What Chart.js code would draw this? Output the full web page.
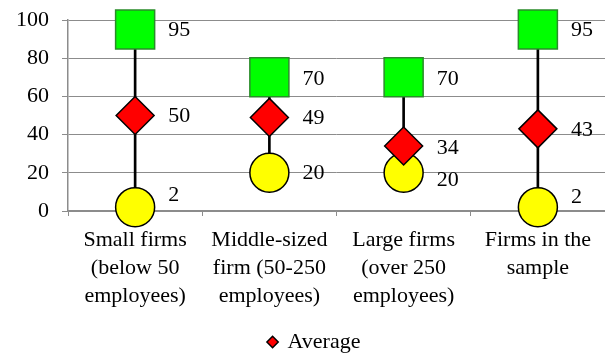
<!DOCTYPE html>
<html>
<head>
<meta charset="utf-8">
<script src="https://cdn.jsdelivr.net/npm/chart.js@4/dist/chart.umd.min.js"></script>
<style>
  html, body { margin: 0; padding: 0; background: #fff; }
  #wrap { width: 605px; height: 353px; }
</style>
</head>
<body>
<div id="wrap"><canvas id="chart" width="605" height="353"></canvas></div>
<script>
// Firm-size groups (multi-line axis labels)
const categories = [
  ["Small firms", "(below 50", "employees)"],
  ["Middle-sized", "firm (50-250", "employees)"],
  ["Large firms", "(over 250", "employees)"],
  ["Firms in the", "sample"]
];
const maxValues = [95, 70, 70, 95];
const avgValues = [50, 49, 34, 43];
const minValues = [2, 20, 20, 2];
const yTicks = [0, 20, 40, 60, 80, 100];

const SERIF = "'Liberation Serif', 'Times New Roman', serif";
const GRID = '#8c8c8c';

// Small vertical nudges for value labels that would otherwise collide
const labelNudge = {
  max: [1, 2, 2, 1],
  avg: [1, 1, 2, 1],
  min: [-12, 0, 7, -10]
};

const valueLabels = {
  id: 'valueLabels',
  afterDatasetsDraw(chart) {
    const ctx = chart.ctx;
    ctx.save();
    ctx.font = '22px ' + SERIF;
    ctx.fillStyle = '#000';
    ctx.textAlign = 'left';
    ctx.textBaseline = 'middle';
    chart.data.datasets.forEach((ds, di) => {
      if (!ds.labelKey) return;
      const meta = chart.getDatasetMeta(di);
      meta.data.forEach((el, i) => {
        ctx.fillText(String(ds.data[i]), el.x + 33, el.y + labelNudge[ds.labelKey][i]);
      });
    });
    ctx.restore();
  }
};

// Sit the legend a little right of centre and low in the frame
const legendShift = {
  id: 'legendShift',
  afterLayout(chart) {
    const lg = chart.legend;
    lg.left += 12; lg.right += 12;
    lg.top += 10; lg.bottom += 10;
  }
};

const markerBase = { type: 'line', showLine: false, clip: false, borderWidth: 1.5 };

new Chart(document.getElementById('chart'), {
  type: 'bar',
  data: {
    labels: categories,
    datasets: [
      Object.assign({}, markerBase, {
        label: 'Average',
        labelKey: 'avg',
        data: avgValues,
        pointStyle: 'rectRot',
        pointRadius: 19,
        pointHoverRadius: 19,
        backgroundColor: '#ff0000',
        borderColor: '#000000',
        order: 1
      }),
      Object.assign({}, markerBase, {
        label: 'Maximum',
        labelKey: 'max',
        data: maxValues,
        pointStyle: 'rect',
        pointRadius: 27.6,
        pointHoverRadius: 27.6,
        backgroundColor: '#00ff00',
        borderColor: '#2a8c2a',
        order: 2
      }),
      Object.assign({}, markerBase, {
        label: 'Minimum',
        labelKey: 'min',
        data: minValues,
        pointStyle: 'circle',
        pointRadius: 19.5,
        pointHoverRadius: 19.5,
        backgroundColor: '#ffff00',
        borderColor: '#000000',
        order: 3
      }),
      {
        type: 'bar',
        label: 'Range',
        data: minValues.map((v, i) => [v, maxValues[i]]),
        backgroundColor: '#000000',
        borderWidth: 0,
        barThickness: 2,
        order: 4
      }
    ]
  },
  options: {
    responsive: false,
    animation: false,
    events: [],
    layout: { autoPadding: false, padding: { top: 20, left: 0, right: 0, bottom: 0 } },
    plugins: {
      tooltip: { enabled: false },
      legend: {
        position: 'bottom',
        labels: {
          filter: (item) => item.text === 'Average',
          usePointStyle: true,
          boxWidth: 8,
          boxHeight: 8,
          padding: 6,
          color: '#000',
          font: { family: SERIF, size: 22 }
        }
      }
    },
    scales: {
      x: {
        offset: true,
        afterFit: (scale) => { scale.height = 104; scale.paddingLeft = 0; scale.paddingRight = 0; },
        grid: {
          offset: true,
          drawOnChartArea: false,
          drawTicks: true,
          tickLength: 5,
          tickColor: GRID,
          tickWidth: 1
        },
        border: { display: true, color: GRID, width: 1.5 },
        ticks: {
          color: '#000',
          font: { family: SERIF, size: 22, lineHeight: 1.27 },
          padding: 10,
          maxRotation: 0,
          autoSkip: false
        }
      },
      y: {
        min: 0,
        max: 100,
        afterFit: (scale) => { scale.width = 68; scale.paddingTop = 0; scale.paddingBottom = 0; },
        afterBuildTicks: (scale) => { scale.ticks = yTicks.map(v => ({ value: v })); },
        grid: {
          color: GRID,
          lineWidth: 1,
          borderDash: [5, 3],
          tickBorderDash: [],
          tickLength: 6,
          tickColor: GRID
        },
        border: { display: true, color: GRID, width: 1.5 },
        ticks: {
          color: '#000',
          font: { family: SERIF, size: 22 },
          padding: 13
        }
      }
    }
  },
  plugins: [valueLabels, legendShift]
});
</script>
</body>
</html>
